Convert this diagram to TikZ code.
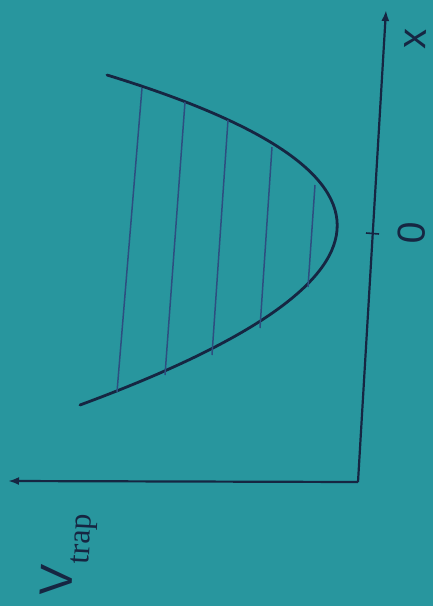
\documentclass[tikz,border=0pt]{standalone}
\usepackage{fontspec}
\setmainfont{Liberation Sans}
\newfontfamily\serifB{Liberation Serif}
\usetikzlibrary{arrows.meta}
\definecolor{bg}{RGB}{40,150,158}
\definecolor{ink}{RGB}{22,38,66}
\definecolor{lvl}{RGB}{45,78,128}
\begin{document}
\begin{tikzpicture}[x=1pt,y=-1pt,
  axis/.style={ink, line width=2.2pt, -{Latex[length=11pt,width=8pt]}},
  pot/.style={ink, line width=2.8pt, line cap=round},
  level/.style={lvl, line width=1.5pt},
  lab/.style={ink, inner sep=0pt, rotate=87}]
\fill[bg] (0,0) rectangle (433,606);
\useasboundingbox (0,0) rectangle (433,606);
% axes
\coordinate (O) at (358,482);
\coordinate (xend) at (386,10);
\coordinate (vend) at (8,481);
\draw[axis] (O) -- (xend);
\draw[axis] (O) -- (vend);
\coordinate (t1) at (366,233);
\coordinate (t2) at (379,234);
\draw[ink, line width=1.6pt] (t1) -- (t2);
% potential
\coordinate (P0) at (107,75);
\coordinate (P2) at (80,405);
\draw[pot] (P0) .. controls (422.7,171.7) and (413.7,281.7) .. (P2);
% levels
\coordinate (a1) at (142,88);  \coordinate (b1) at (117,392);
\coordinate (a2) at (185,102); \coordinate (b2) at (165,375);
\coordinate (a3) at (228,120); \coordinate (b3) at (212,355);
\coordinate (a4) at (272,147); \coordinate (b4) at (260,328);
\coordinate (a5) at (315,185); \coordinate (b5) at (308,287);
\foreach \i in {1,...,5} \draw[level] (a\i) -- (b\i);
% labels
\node[lab, font=\fontsize{40}{40}\selectfont] (xl) at (415,39) {x};
\node[lab, font=\fontsize{39}{39}\selectfont] (zl) at (412,233) {0};
\node[lab, anchor=base west, font=\fontsize{46}{46}\selectfont] (vl) at (71,597)
  {V\kern3pt\raisebox{-16pt}{\serifB\fontsize{32}{32}\selectfont trap}};
\end{tikzpicture}
\end{document}
